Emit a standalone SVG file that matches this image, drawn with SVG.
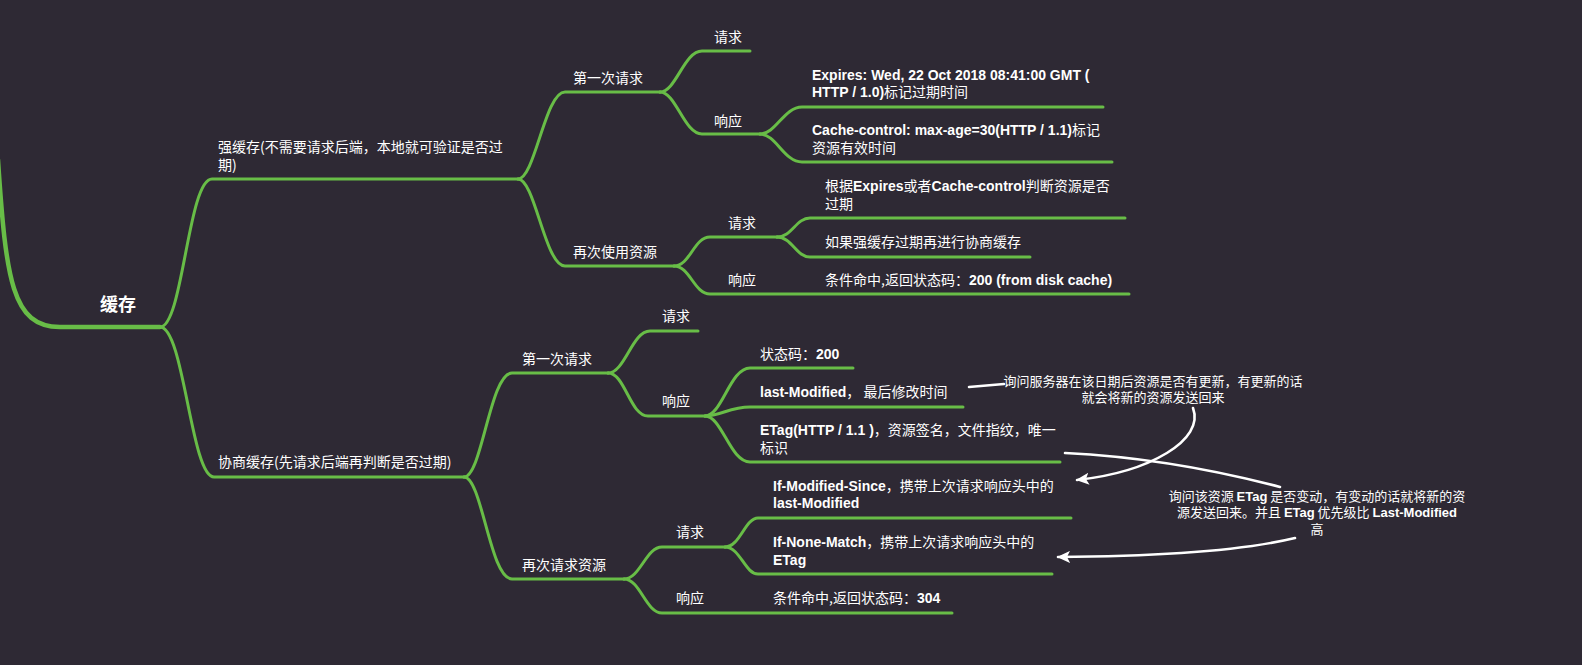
<svg xmlns="http://www.w3.org/2000/svg" width="1582" height="665" viewBox="0 0 1582 665">
<defs>
<style>
.bg{fill:#2e2934}
.br{fill:none;stroke:#68bd47;stroke-width:3;stroke-linecap:round}
.rt{fill:none;stroke:#68bd47;stroke-width:4.5;stroke-linecap:round}
.wl{fill:none;stroke:#ffffff;stroke-width:2.6;stroke-linecap:round}
text{font-family:"Noto Sans CJK SC","Liberation Sans",sans-serif;font-size:14px;fill:#ffffff}
.b{font-family:"Liberation Sans","Noto Sans CJK SC",sans-serif;font-weight:bold}
.root{font-size:18px;font-weight:bold}
.note{font-size:13px;text-anchor:middle}
</style>
<marker id="ah" markerUnits="userSpaceOnUse" markerWidth="14" markerHeight="12" refX="12" refY="6" orient="auto">
<path d="M0,0 L13,6 L0,12 L3,6 z" fill="#ffffff"/>
</marker>
</defs>
<rect class="bg" x="0" y="0" width="1582" height="665"/>

<g id="connectors">
<path class="rt" d="M-2,160 C6,280 12,327 60,327 L160,327"/>
<path class="br" d="M160,327 C183,327 188,179 212,179 L518,179"/>
<path class="br" d="M160,327 C184,327 191,477 214,477 L464,477"/>
<path class="br" d="M518,179 C535,179 545,92 565,92 L660,92"/>
<path class="br" d="M518,179 C535,179 545,266 565,266 L674,266"/>
<path class="br" d="M660,92 C676,92 684,51 702,51 L750,51"/>
<path class="br" d="M660,92 C676,92 684,134 702,134 L760,134"/>
<path class="br" d="M760,134 C776,134 784,107 802,107 L1103,107"/>
<path class="br" d="M760,134 C776,134 784,162 802,162 L1112,162"/>
<path class="br" d="M674,266 C690,266 694,237 710,237 L777,237"/>
<path class="br" d="M674,266 C690,266 694,294 710,294 L1129,294"/>
<path class="br" d="M777,237 C792,237 796,218 810,218 L1125,218"/>
<path class="br" d="M777,237 C792,237 796,257 810,257 L1030,257"/>
<path class="br" d="M464,477 C482,477 490,373 512,373 L608,373"/>
<path class="br" d="M464,477 C482,477 490,579 512,579 L624,579"/>
<path class="br" d="M608,373 C625,373 632,331 650,331 L698,331"/>
<path class="br" d="M608,373 C625,373 630,416 648,416 L705,416"/>
<path class="br" d="M705,416 C722,416 730,368 750,368 L853,368"/>
<path class="br" d="M705,416 C720,416 730,407 750,407 L963,407"/>
<path class="br" d="M705,416 C722,416 730,462 750,462 L1060,462"/>
<path class="br" d="M624,579 C640,579 646,547 662,547 L725,547"/>
<path class="br" d="M624,579 C640,579 646,613 662,613 L952,613"/>
<path class="br" d="M725,547 C740,547 745,518 758,518 L1071,518"/>
<path class="br" d="M725,547 C740,547 745,574 758,574 L1052,574"/>
<path class="wl" d="M969,387 L1004,384"/>
<path class="wl" d="M1193,408 C1205,440 1150,472 1077,480" marker-end="url(#ah)"/>
<path class="wl" d="M1065,453 Q1170,458 1280,487"/>
<path class="wl" d="M1295,538 Q1220,556 1058,557" marker-end="url(#ah)"/>
</g>

<g id="n-root"><text class="root" x="100" y="311">缓存</text></g>

<g id="n-strong"><text x="218" y="152">强缓存(不需要请求后端，本地就可验证是否过</text><text x="218" y="170">期)</text></g>
<g id="n-s-first"><text x="573" y="83">第一次请求</text></g>
<g id="n-s-first-req"><text x="714" y="42">请求</text></g>
<g id="n-s-first-res"><text x="714" y="126">响应</text></g>
<g id="n-expires"><text x="812" y="80"><tspan class="b">Expires: Wed, 22 Oct 2018 08:41:00 GMT (</tspan></text><text x="812" y="97"><tspan class="b">HTTP / 1.0)</tspan>标记过期时间</text></g>
<g id="n-cachecontrol"><text x="812" y="135"><tspan class="b">Cache-control: max-age=30(HTTP / 1.1)</tspan>标记</text><text x="812" y="153">资源有效时间</text></g>
<g id="n-s-again"><text x="573" y="257">再次使用资源</text></g>
<g id="n-s-again-req"><text x="728" y="228">请求</text></g>
<g id="n-s-again-res"><text x="728" y="285">响应</text></g>
<g id="n-judge"><text x="825" y="191">根据<tspan class="b">Expires</tspan>或者<tspan class="b">Cache-control</tspan>判断资源是否</text><text x="825" y="209">过期</text></g>
<g id="n-fallback"><text x="825" y="247">如果强缓存过期再进行协商缓存</text></g>
<g id="n-hit200"><text x="825" y="285">条件命中,返回状态码：<tspan class="b">200 (from disk cache)</tspan></text></g>

<g id="n-nego"><text x="218" y="467">协商缓存(先请求后端再判断是否过期)</text></g>
<g id="n-n-first"><text x="522" y="364">第一次请求</text></g>
<g id="n-n-first-req"><text x="662" y="321">请求</text></g>
<g id="n-n-first-res"><text x="662" y="406">响应</text></g>
<g id="n-status"><text x="760" y="359">状态码：<tspan class="b">200</tspan></text></g>
<g id="n-lastmod"><text x="760" y="397"><tspan class="b">last-Modified</tspan>， 最后修改时间</text></g>
<g id="n-etag"><text x="760" y="435"><tspan class="b">ETag(HTTP / 1.1 )</tspan>，资源签名，文件指纹，唯一</text><text x="760" y="453">标识</text></g>
<g id="n-n-again"><text x="522" y="570">再次请求资源</text></g>
<g id="n-n-again-req"><text x="676" y="537">请求</text></g>
<g id="n-n-again-res"><text x="676" y="603">响应</text></g>
<g id="n-ims"><text x="773" y="491"><tspan class="b">If-Modified-Since</tspan>，携带上次请求响应头中的</text><text x="773" y="508"><tspan class="b">last-Modified</tspan></text></g>
<g id="n-inm"><text x="773" y="547"><tspan class="b">If-None-Match</tspan>，携带上次请求响应头中的</text><text x="773" y="565"><tspan class="b">ETag</tspan></text></g>
<g id="n-hit304"><text x="773" y="603">条件命中,返回状态码：<tspan class="b">304</tspan></text></g>

<g id="note-lastmod"><text class="note" x="1153" y="386">询问服务器在该日期后资源是否有更新，有更新的话</text><text class="note" x="1153" y="402">就会将新的资源发送回来</text></g>
<g id="note-etag"><text class="note" x="1317" y="501">询问该资源 <tspan class="b">ETag</tspan> 是否变动，有变动的话就将新的资</text><text class="note" x="1317" y="517">源发送回来。并且 <tspan class="b">ETag</tspan> 优先级比 <tspan class="b">Last-Modified</tspan></text><text class="note" x="1317" y="534">高</text></g>
</svg>
